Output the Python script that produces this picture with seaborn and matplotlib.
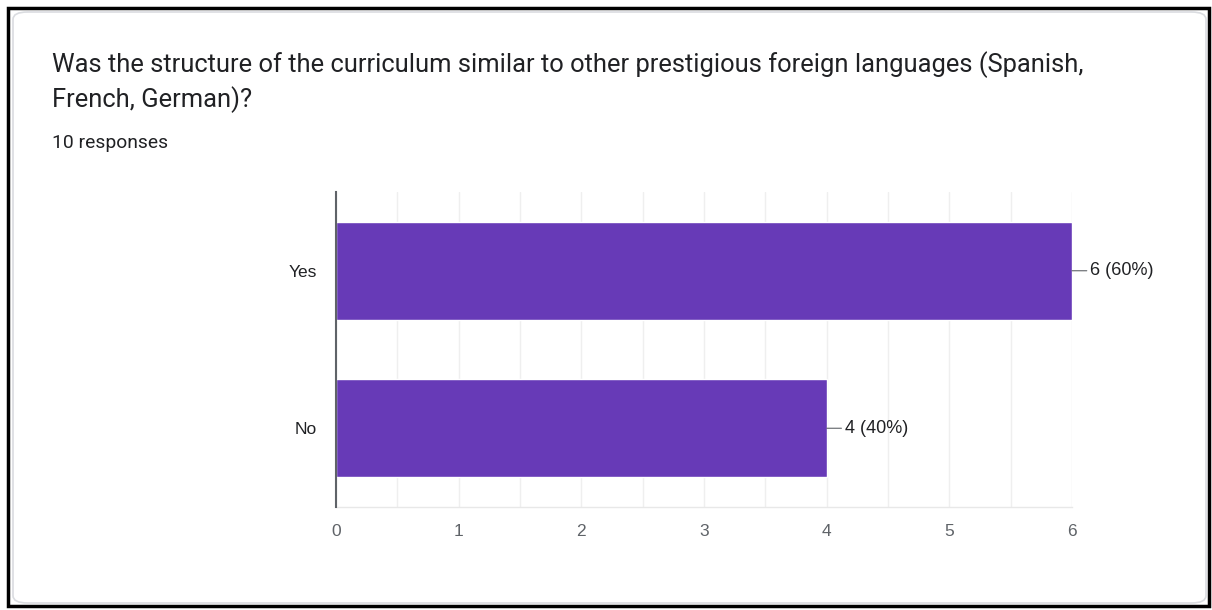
import matplotlib
matplotlib.use("Agg")
import matplotlib.pyplot as plt
from matplotlib.patches import FancyBboxPatch, Rectangle
import seaborn as sns
import pandas as pd

# ── Data ────────────────────────────────────────────────────────────────────
answers = ["Yes", "No"]
counts = [6, 4]
total_responses = 10
x_ticks = [0, 1, 2, 3, 4, 5, 6]

title_lines = ["Was the structure of the curriculum similar to other prestigious foreign languages (Spanish,",
               "French, German)?"]
subtitle = f"{total_responses} responses"

PURPLE = "#673ab7"
TEXT = "#202124"
TICK = "#5f6368"
LABEL_FONT = ["Liberation Sans", "DejaVu Sans"]

sns.set_theme(style="white")
plt.rcParams["font.family"] = ["Roboto", "DejaVu Sans"]

df = pd.DataFrame({"answer": answers, "count": counts})

W, H = 1212, 610
fig = plt.figure(figsize=(W / 100, H / 100), dpi=100)
fig.patch.set_facecolor("white")

# outer black frame + rounded card (behind everything)
fig.patches.append(Rectangle((8 / W, 1 - 606 / H), 1201 / W, 598 / H,
                             transform=fig.transFigure, fill=False,
                             edgecolor="black", linewidth=2.5, zorder=-2))
fig.patches.append(FancyBboxPatch((13 / W, 1 - 603 / H), 1193 / W, 591 / H,
                                  boxstyle="round,pad=0,rounding_size=0.012",
                                  transform=fig.transFigure, facecolor="white",
                                  edgecolor="#dadce0", linewidth=1.2, zorder=-1))

fig.text(52 / W, 1 - 72 / H, title_lines[0], fontsize=18.4, color=TEXT,
         va="baseline", ha="left")
fig.text(52 / W, 1 - 107 / H, title_lines[1], fontsize=18.4, color=TEXT,
         va="baseline", ha="left")
fig.text(52 / W, 1 - 148 / H, subtitle, fontsize=13.9, color=TEXT,
         va="baseline", ha="left")

ax = fig.add_axes([336 / W, 1 - 507 / H, (1072 - 336) / W, (507 - 192) / H])
ax.set_zorder(2)
ax.patch.set_alpha(0)
sns.barplot(data=df, x="count", y="answer", orient="h", color=PURPLE,
            saturation=1, width=0.625, ax=ax, zorder=3)

ax.set_xlim(0, 6)
ax.set_ylim(1.5, -0.5)
ax.set_xticks(x_ticks)
ax.set_xticks([v + 0.5 for v in x_ticks[:-1]], minor=True)
ax.grid(axis="x", which="both", color="#efefef", linewidth=1, zorder=0)
ax.set_axisbelow(True)
ax.set_xlabel("")
ax.set_ylabel("")
for s in ["top", "right"]:
    ax.spines[s].set_visible(False)
ax.spines["left"].set_color("#5f6368")
ax.spines["left"].set_linewidth(1.5)
ax.spines["left"].set_zorder(4)
ax.spines["bottom"].set_color("#e8e8e8")
ax.spines["bottom"].set_linewidth(1)
ax.tick_params(axis="both", which="both", length=0, labelsize=12.5, colors=TICK)
ax.tick_params(axis="x", pad=12)
ax.tick_params(axis="y", pad=14, labelcolor=TEXT)
for lbl in ax.get_xticklabels() + ax.get_yticklabels():
    lbl.set_family(LABEL_FONT)

for i, c in enumerate(counts):
    ax.annotate(f"{c} ({c / total_responses:.0%})", xy=(c, i),
                xytext=(13, 0), textcoords="offset points",
                va="center", ha="left", fontsize=13, color=TEXT,
                family=LABEL_FONT,
                arrowprops=dict(arrowstyle="-", color=TICK, lw=0.8,
                                shrinkA=0, shrinkB=0))

fig.savefig("out.png", dpi=100)
